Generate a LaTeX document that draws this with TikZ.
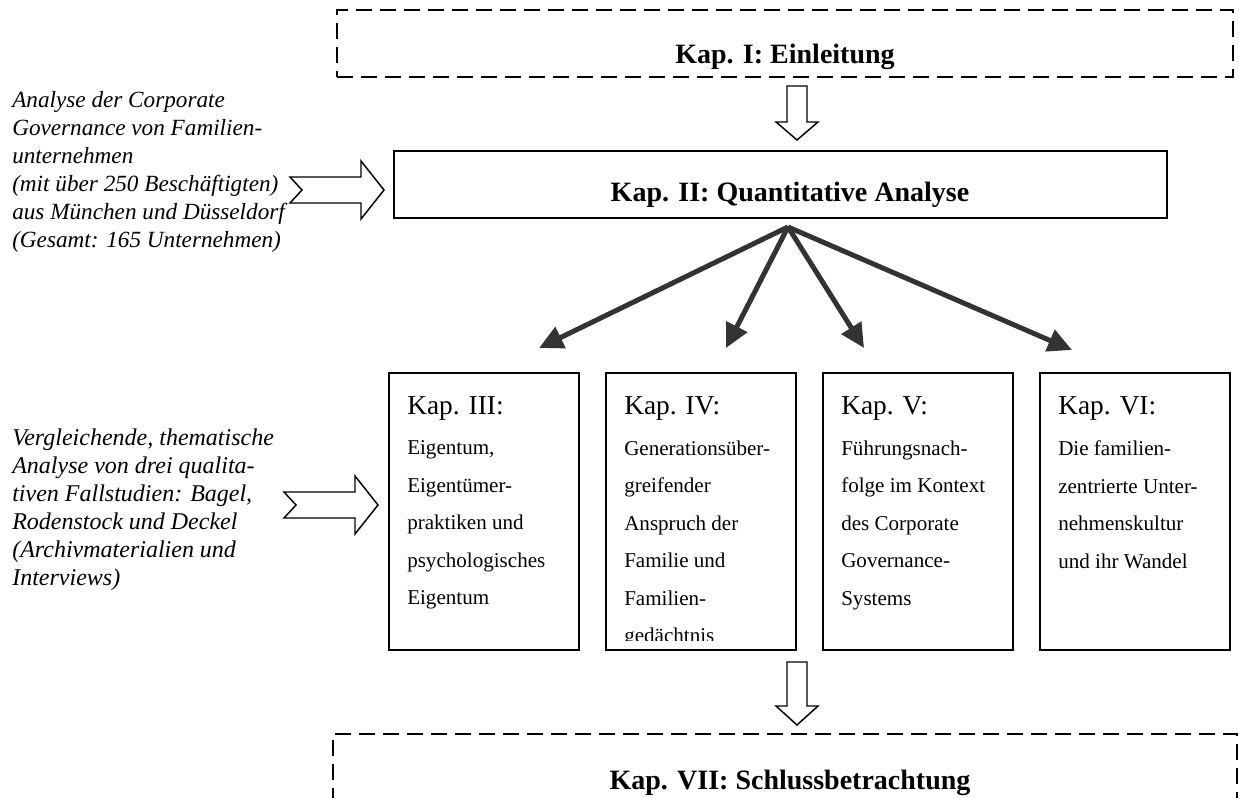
\documentclass[tikz,border=0pt]{standalone}
\usepackage{fontspec}
\setmainfont{Liberation Serif}
\usetikzlibrary{arrows.meta,positioning}

\begin{document}
\begin{tikzpicture}[x=0.75pt,y=-0.75pt,
    rahmen/.style={draw,dash pattern=on 12pt off 6pt,line width=1.2pt,minimum height=50.25pt,inner sep=0pt},
    kasten/.style={draw,line width=1.4pt,minimum height=50.25pt,inner sep=0pt},
    titel/.style={font=\fontsize{21}{25}\selectfont\bfseries,inner sep=0pt,anchor=base},
    kapbox/.style={draw,line width=1.4pt,minimum width=142.5pt,minimum height=207.75pt,inner sep=0pt,outer sep=0pt,anchor=north west},
    kapkopf/.style={font=\fontsize{20.5}{24}\selectfont,inner sep=0pt,anchor=base west},
    kaptext/.style={font=\fontsize{15.8}{28.1}\selectfont,align=left,inner sep=0pt,anchor=north west},
    seitentext/.style={font=\fontsize{18}{21}\selectfont\itshape,align=left,inner sep=0pt,anchor=north west},
    hohlpfeil/.style={draw,line width=1.1pt,fill=white,line join=miter},
    faecher/.style={draw=black!80,line width=3.75pt,-{Triangle[length=18pt,width=17pt]}}]
	\useasboundingbox (0,0) rectangle (1239,798);
	\clip (0,0) rectangle (1239,798);

	% Einleitung und quantitative Analyse
	\node[rahmen,minimum width=672pt] (k1) at (785,43.5) {};
	\node[titel] (t1) at (785,64) {Kap. I: Einleitung};
	\node[kasten,minimum width=579.75pt] (k2) at (780.5,184.5) {};
	\node[titel] (t2) at (790,202) {Kap. II: Quantitative Analyse};

	\draw[hohlpfeil,shift={(797,86)}] (-10,0) -- (10,0) -- (10,36) -- (21,36) -- (0,54) -- (-21,36) -- (-10,36) -- cycle;

	% linke Spalte
	\node[seitentext,font=\fontsize{17.4}{21}\selectfont\itshape] (s1) at (12,90.8) {Analyse der Corporate\\Governance von Familien-\\unternehmen\\(mit über 250 Beschäftigten)\\aus München und Düsseldorf\\(Gesamt: 165 Unternehmen)};
	\node[seitentext] (s2) at (12,428.5) {Vergleichende, thematische\\Analyse von drei qualita-\\tiven Fallstudien: Bagel,\\Rodenstock und Deckel\\(Archivmaterialien und\\Interviews)};

	\draw[hohlpfeil,shift={(290,190)}] (0,-13) -- (71,-13) -- (71,-29) -- (94,0) -- (71,29) -- (71,13) -- (0,13) -- (12,0) -- cycle;
	\draw[hohlpfeil,shift={(284,505)}] (0,-13) -- (71,-13) -- (71,-29) -- (94,0) -- (71,29) -- (71,13) -- (0,13) -- (12,0) -- cycle;

	% Kapitel III bis VI
	\node[kapbox] (k3) at (389,373) {};
	\node[kapbox,right=20.25pt of k3] (k4) {};
	\node[kapbox,right=20.25pt of k4] (k5) {};
	\node[kapbox,right=20.25pt of k5] (k6) {};

	\node[kapkopf] (h3) at ([xshift=13.5pt,yshift=-31.5pt]k3.north west) {Kap. III:};
	\node[kapkopf] (h4) at ([xshift=13.5pt,yshift=-31.5pt]k4.north west) {Kap. IV:};
	\node[kapkopf] (h5) at ([xshift=13.5pt,yshift=-31.5pt]k5.north west) {Kap. V:};
	\node[kapkopf] (h6) at ([xshift=13.5pt,yshift=-31.5pt]k6.north west) {Kap. VI:};

	\node[kaptext] (b3) at ([yshift=-19.2pt]h3.base west) {Eigentum,\\Eigentümer-\\praktiken und\\psychologisches\\Eigentum};
	\begin{scope}
		\clip (k4.north west) rectangle ([yshift=7.5pt]k4.south east);
		\node[kaptext] (b4) at ([yshift=-19.2pt]h4.base west) {Generationsüber-\\greifender\\Anspruch der\\Familie und\\Familien-\\gedächtnis};
	\end{scope}
	\node[kaptext] (b5) at ([yshift=-19.2pt]h5.base west) {Führungsnach-\\folge im Kontext\\des Corporate\\Governance-\\Systems};
	\node[kaptext] (b6) at ([yshift=-19.2pt]h6.base west) {Die familien-\\zentrierte Unter-\\nehmenskultur\\und ihr Wandel};

	% Pfeile von Kap. II
	\coordinate (fan) at (788,227);
	\coordinate (p3) at (539,348);
	\coordinate (p4) at (726,348);
	\coordinate (p5) at (864,348);
	\coordinate (p6) at (1072,350);
	\draw[faecher] (fan) -- (p3);
	\draw[faecher] (fan) -- (p4);
	\draw[faecher] (fan) -- (p5);
	\draw[faecher] (fan) -- (p6);

	% Schlussbetrachtung
	\draw[hohlpfeil,shift={(797,662)}] (-10,0) -- (10,0) -- (10,44) -- (21,44) -- (0,63) -- (-21,44) -- (-10,44) -- cycle;
	\node[rahmen,minimum width=678pt,minimum height=79.5pt] (k7) at (785,787) {};
	\node[titel] (t7) at (790,789) {Kap. VII: Schlussbetrachtung};
\end{tikzpicture}
\end{document}
